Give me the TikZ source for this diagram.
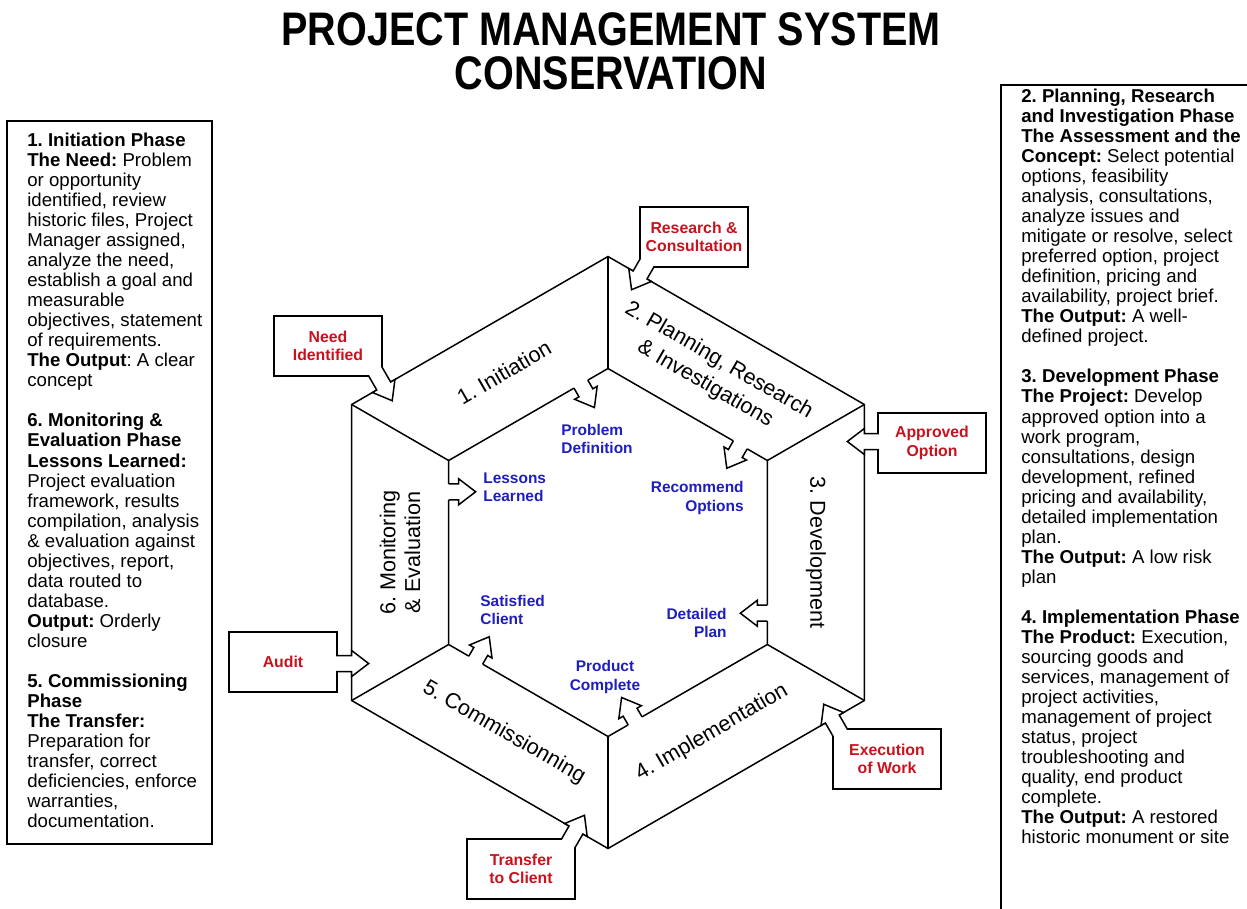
\documentclass[tikz,border=0pt]{standalone}
\usepackage{fontspec}
\setmainfont{Liberation Sans}
\usepackage{xcolor}
\usetikzlibrary{calc}
\frenchspacing

\definecolor{calloutred}{RGB}{200,18,30}
\definecolor{stepblue}{RGB}{30,30,190}

% open-tailed block arrow, origin at the tail, #1 = shaft length
\tikzset{
  pics/blockarrow/.style={code={
    \fill[white] (-2,-8) -- (#1,-8) -- (#1,-13) -- ({#1+17},0) -- (#1,13) -- (#1,8) -- (-2,8) -- cycle;
    \draw[arrowline] (0,-8) -- (#1,-8) -- (#1,-13) -- ({#1+17},0) -- (#1,13) -- (#1,8) -- (0,8);
  }},
}

\begin{document}
\begin{tikzpicture}[
    x=0.02cm, y=0.02cm,
    rim/.style={line width=0.85pt, line join=miter},
    arrowline/.style={line width=0.85pt, line join=miter},
    sidebox/.style={line width=1pt},
    calloutframe/.style={draw, line width=1pt, minimum width=2.16cm, minimum height=1.2cm, inner sep=0pt},
    calloutbody/.style={fill=white, minimum width=2.125cm, minimum height=1.165cm, inner sep=0pt, align=center, text=calloutred, font=\fontsize{9}{10.4}\selectfont\bfseries},
    phaselabel/.style={align=center, inner sep=0pt, font=\fontsize{12.3}{15.5}\selectfont},
    milestone/.style={inner sep=0pt, text=stepblue, font=\fontsize{8.8}{10.3}\selectfont\bfseries},
    notes/.style={anchor=north west, align=left, inner sep=0pt, font=\fontsize{10.6}{11.4}\selectfont},
    headline/.style={align=center, inner sep=0pt, xscale=0.84, font=\fontsize{26.8}{25}\selectfont\bfseries},
]

\fill[white] (0,0) rectangle (1247,-909);
\useasboundingbox (0,0) rectangle (1247,-909);

% title
\node[headline] (heading) at (611,-51) {PROJECT MANAGEMENT SYSTEM\\CONSERVATION};

% hexagon: outer rim, inner rim and spokes
\coordinate (hub) at (608,-552.5);
\foreach \a [count=\i] in {90,30,-30,-90,-150,150} {
  \coordinate (o\i) at ($(hub)+(\a:296)$);
  \coordinate (n\i) at ($(hub)+(\a:184)$);
}
\draw[rim] (o1) -- (o2) -- (o3) -- (o4) -- (o5) -- (o6) -- cycle;
\draw[rim] (n1) -- (n2) -- (n3) -- (n4) -- (n5) -- (n6) -- cycle;
\foreach \i in {1,...,6} \draw[rim] (n\i) -- (o\i);

% call-out frames
\node[calloutframe] (audit) at (283,-662) {};
\node[calloutframe] (need) at (328,-346) {};
\node[calloutframe] (research) at (694,-237) {};
\node[calloutframe] (approved) at (932,-443) {};
\node[calloutframe] (execution) at (887,-759) {};
\node[calloutframe] (transfer) at (521,-869) {};

% arrows: call-outs onto the outer rim, phases into the middle
\foreach \a/\b/\r in {5/6/0, 6/1/-60, 1/2/-120, 2/3/180, 3/4/120, 4/5/60} {
  \pic[rotate=\r] at ($(o\a)!0.125!(o\b)+({\r+180}:40)$) {blockarrow=40};
  \pic[rotate=\r] at ($(n\a)!0.83!(n\b)$) {blockarrow=10};
}

% call-out bodies
\node[calloutbody] (audittext) at (audit) {Audit};
\node[calloutbody] (needtext) at (need) {Need\\Identified};
\node[calloutbody] (researchtext) at (research) {Research \&\\Consultation};
\node[calloutbody] (approvedtext) at (approved) {Approved\\Option};
\node[calloutbody] (executiontext) at (execution) {Execution\\of Work};
\node[calloutbody] (transfertext) at (transfer) {Transfer\\to Client};

% phase names
\node[phaselabel, rotate=30] (initiation) at ($(hub)+(120:208)$) {1. Initiation};
\node[phaselabel, rotate=-30] (planning) at ($(hub)+(60:208)$) {2. Planning, Research\\\& Investigations};
\node[phaselabel, rotate=-90] (development) at ($(hub)+(0:208)$) {3. Development};
\node[phaselabel, rotate=30] (implementation) at ($(hub)+(-60:208)$) {4. Implementation};
\node[phaselabel, rotate=-30] (commissioning) at ($(hub)+(-120:208)$) {5. Commissionning};
\node[phaselabel, rotate=90, font=\fontsize{12.3}{14.2}\selectfont] (monitoring) at ($(hub)+(180:208)$) {6. Monitoring\\\& Evaluation};

% results inside the hexagon
\node[milestone, anchor=west, align=left] (problem) at (561,-439) {Problem\\Definition};
\node[milestone, anchor=east, align=right] (recommend) at (744,-498) {Recommend\\Options};
\node[milestone, anchor=east, align=right] (detailed) at (727,-623) {Detailed\\Plan};
\node[milestone, align=center] (product) at (605,-677) {Product\\Complete};
\node[milestone, anchor=west, align=left] (satisfied) at (480,-610) {Satisfied\\Client};
\node[milestone, anchor=west, align=left] (lessons) at (483,-487) {Lessons\\Learned};

% side notes
\draw[sidebox] (7,-121) rectangle (212,-844);
\node[notes] (leftnotes) at (27,-132.7) {%
\textbf{1. Initiation Phase}\\
\textbf{The Need:} Problem\\
or opportunity\\
identified, review\\
historic files, Project\\
Manager assigned,\\
analyze the need,\\
establish a goal and\\
measurable\\
objectives, statement\\
of requirements.\\
\textbf{The Output}: A clear\\
concept\\[\baselineskip]
\textbf{6. Monitoring \&}\\
\textbf{Evaluation Phase}\\
\textbf{Lessons Learned:}\\
Project evaluation\\
framework, results\\
compilation, analysis\\
\& evaluation against\\
objectives, report,\\
data routed to\\
database.\\
\textbf{Output:} Orderly\\
closure\\[\baselineskip]
\textbf{5. Commissioning}\\
\textbf{Phase}\\
\textbf{The Transfer:}\\
Preparation for\\
transfer, correct\\
deficiencies, enforce\\
warranties,\\
documentation.};

\draw[sidebox] (1260,-85) -- (1001,-85) -- (1001,-920);
\node[notes] (rightnotes) at (1021,-88.7) {%
\textbf{2. Planning, Research}\\
\textbf{and Investigation Phase}\\
\textbf{The Assessment and the}\\
\textbf{Concept:} Select potential\\
options, feasibility\\
analysis, consultations,\\
analyze issues and\\
mitigate or resolve, select\\
preferred option, project\\
definition, pricing and\\
availability, project brief.\\
\textbf{The Output:} A well-\\
defined project.\\[\baselineskip]
\textbf{3. Development Phase}\\
\textbf{The Project:} Develop\\
approved option into a\\
work program,\\
consultations, design\\
development, refined\\
pricing and availability,\\
detailed implementation\\
plan.\\
\textbf{The Output:} A low risk\\
plan\\[\baselineskip]
\textbf{4. Implementation Phase}\\
\textbf{The Product:} Execution,\\
sourcing goods and\\
services, management of\\
project activities,\\
management of project\\
status, project\\
troubleshooting and\\
quality, end product\\
complete.\\
\textbf{The Output:} A restored\\
historic monument or site};

\end{tikzpicture}
\end{document}
